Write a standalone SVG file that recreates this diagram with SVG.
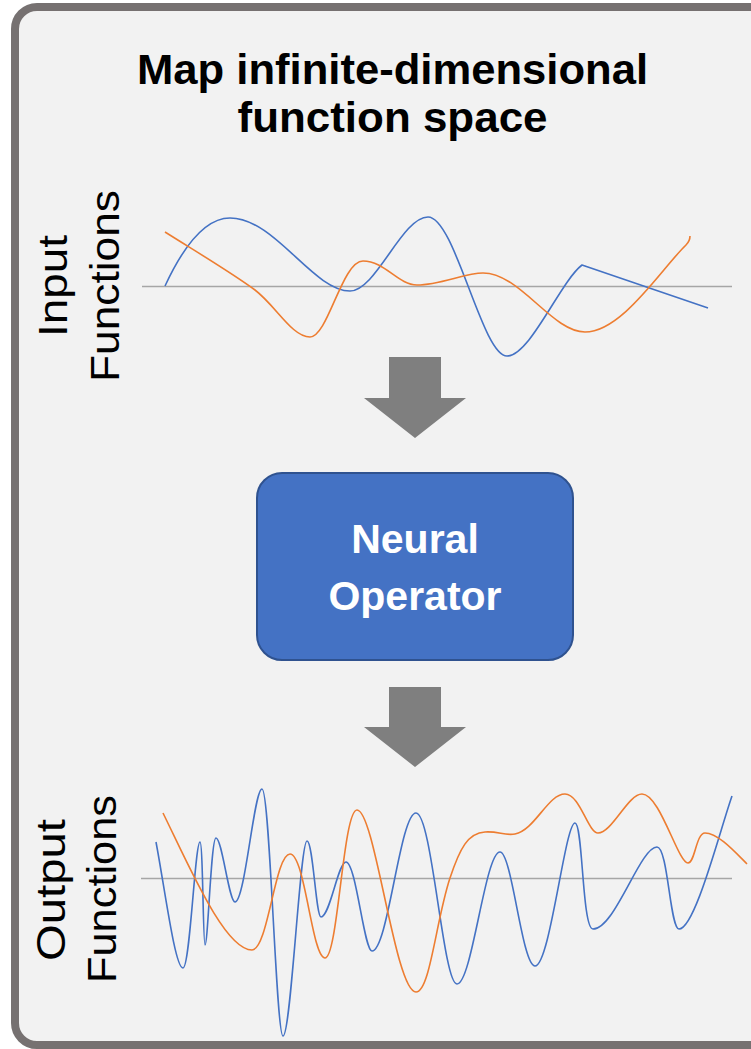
<svg xmlns="http://www.w3.org/2000/svg" width="751" height="1049" viewBox="0 0 751 1049">
  <style>
    .title { font-family: "Liberation Sans", Arial, sans-serif; font-weight: bold; font-size: 42px; fill: #000; }
    .side { font-family: "Liberation Sans", Arial, sans-serif; font-size: 41px; fill: #000; }
    .node-text { font-family: "Liberation Sans", Arial, sans-serif; font-weight: bold; font-size: 41px; fill: #fff; }
    .axis { stroke: #a6a6a6; stroke-width: 1.5; fill: none; }
    .blue { stroke: #4472c4; stroke-width: 1.6; fill: none; stroke-linejoin: round; }
    .orange { stroke: #ed7d31; stroke-width: 1.6; fill: none; stroke-linejoin: round; }
    .flow { fill: #7f7f7f; }
  </style>

  <rect width="751" height="1049" fill="#ffffff"/>

  <!-- panel frame -->
  <rect id="panel" x="15" y="7" width="800" height="1038" rx="22" ry="22" fill="#f2f2f2" stroke="#767171" stroke-width="8"/>

  <!-- heading -->
  <g id="heading">
    <text class="title" x="392.5" y="84" text-anchor="middle" textLength="511" lengthAdjust="spacingAndGlyphs">Map infinite-dimensional</text>
    <text class="title" x="392.5" y="132" text-anchor="middle" textLength="310" lengthAdjust="spacingAndGlyphs">function space</text>
  </g>

  <!-- input functions plot -->
  <g id="input-functions">
    <text class="side" transform="translate(67,286) rotate(-90)" text-anchor="middle" textLength="102" lengthAdjust="spacingAndGlyphs">Input</text>
    <text class="side" transform="translate(119,286) rotate(-90)" text-anchor="middle" textLength="192" lengthAdjust="spacingAndGlyphs">Functions</text>
    <line class="axis" x1="142" y1="286.5" x2="732" y2="286.5"/>
    <path class="blue" d="M165,286 C178,258 200,218 230,218 C275,218 313,291 350,291 C376,291 402,217 428,217 C455,217 482,356 507,356 C530,356 560,282 582,265 L708,308"/>
    <path class="orange" d="M165,232 C200,254 232,273 255,290 C276,306 292,337 310,337 C328,337 342,261 363,261 C385,261 398,285 417,285 C440,285 465,273 483,273 C520,273 552,332 585,332 C622,332 662,268 686,245 C690,241 690,238 690,236"/>
  </g>

  <!-- processing node -->
  <g id="neural-operator">
    <rect x="257" y="473" width="316" height="187" rx="25" ry="25" fill="#4472c4" stroke="#2f528f" stroke-width="2"/>
    <text class="node-text" x="415" y="553" text-anchor="middle">Neural</text>
    <text class="node-text" x="415" y="610" text-anchor="middle">Operator</text>
  </g>

  <!-- output functions plot -->
  <g id="output-functions">
    <text class="side" transform="translate(65,890) rotate(-90)" text-anchor="middle" textLength="142" lengthAdjust="spacingAndGlyphs">Output</text>
    <text class="side" transform="translate(116,889) rotate(-90)" text-anchor="middle" textLength="188" lengthAdjust="spacingAndGlyphs">Functions</text>
    <line class="axis" x1="141" y1="878.5" x2="732" y2="878.5"/>
    <path class="blue" d="M156,842 C165,890 175,968 183,968 C190,968 195,842 200,842 C203,842 203,945 205,945 C208,945 211,838 216,838 C222,838 229,902 235,902 C245,902 254,789 262,789 C270,789 276,1036 283,1036 C291,1036 300,841 307,841 C313,841 316,917 321,917 C330,917 338,862 346,862 C356,862 364,951 372,951 C388,951 400,813 416,813 C432,813 443,984 457,984 C472,984 485,852 500,852 C512,852 522,966 535,966 C550,966 565,823 575,823 C583,823 582,929 593,929 C615,929 640,847 657,847 C668,847 670,929 679,929 C695,929 720,830 732,796"/>
    <path class="orange" d="M163,813 C190,868 225,950 252,950 C268,950 275,854 290,854 C305,854 312,958 325,958 C338,958 343,810 357,810 C375,810 395,992 416,992 C430,992 436,920 450,878 C460,848 468,833 485,832 C498,831 505,836 515,834 C535,830 548,794 565,794 C580,794 588,833 598,833 C612,833 628,794 642,794 C660,794 678,863 688,863 C695,863 696,833 705,833 C718,833 735,852 747,864"/>
  </g>

  <!-- connectors -->
  <g id="connectors">
    <polygon class="flow" points="389,357 441,357 441,398 466,398 415,438 364,398 389,398"/>
    <polygon class="flow" points="389,687 441,687 441,727 466,727 415,767 364,727 389,727"/>
  </g>
</svg>
